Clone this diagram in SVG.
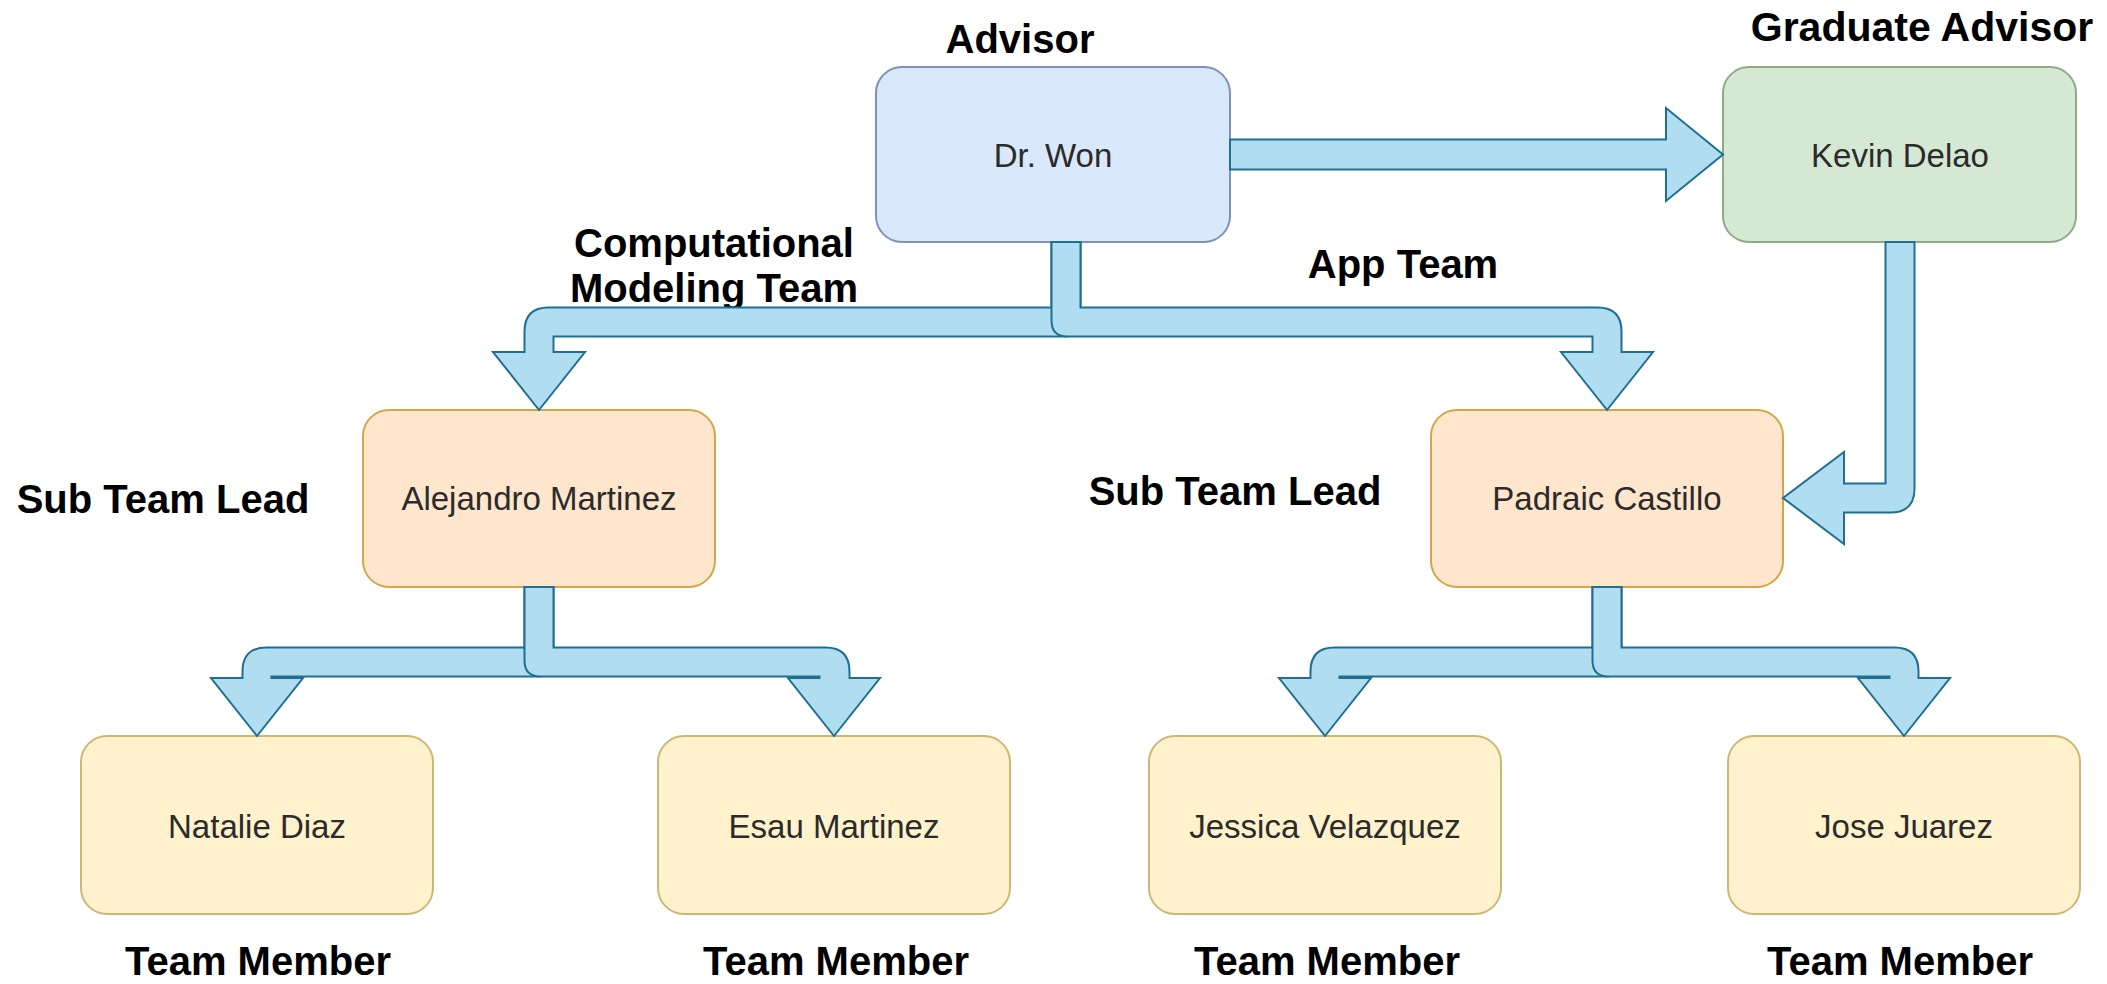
<svg xmlns="http://www.w3.org/2000/svg" width="2107" height="984" viewBox="0 0 2107 984">
  <style>
    .box { stroke-width: 2; }
    .blue { fill: #dae8fc; stroke: #7c92b8; }
    .green { fill: #d5e8d4; stroke: #8fab86; }
    .orange { fill: #ffe6cc; stroke: #d2a64a; }
    .yellow { fill: #fff2cc; stroke: #cdb777; }
    .name { font-family: "Liberation Sans", Arial, sans-serif; font-size: 33px; fill: #2b2b2b; text-anchor: middle; }
    .role { font-family: "Liberation Sans", Arial, sans-serif; font-size: 40px; font-weight: bold; fill: #000; text-anchor: middle; }
    .flex { fill: #b1ddf0; stroke: #1f6f93; stroke-width: 2; stroke-linejoin: miter; }
  </style>
  <rect width="2107" height="984" fill="#ffffff"/>

  <!-- role labels -->
  <g id="labels">
    <text class="role" x="1020" y="53">Advisor</text>
    <text class="role" x="1922" y="41" style="font-size:41px">Graduate Advisor</text>
    <text class="role" x="714" y="257">Computational</text>
    <text class="role" x="714" y="302">Modeling Team</text>
    <text class="role" x="1403" y="278">App Team</text>
    <text class="role" x="163" y="513">Sub Team Lead</text>
    <text class="role" x="1235" y="505">Sub Team Lead</text>
    <text class="role" x="258" y="975">Team Member</text>
    <text class="role" x="836" y="975">Team Member</text>
    <text class="role" x="1327" y="975">Team Member</text>
    <text class="role" x="1900" y="975">Team Member</text>
  </g>

  <g id="dr-won">
    <rect class="box blue" x="876" y="67" width="354" height="175" rx="26"/>
    <text class="name" x="1053" y="167">Dr. Won</text>
  </g>
  <g id="kevin-delao">
    <rect class="box green" x="1723" y="67" width="353" height="175" rx="26"/>
    <text class="name" x="1900" y="167">Kevin Delao</text>
  </g>
  <g id="alejandro-martinez">
    <rect class="box orange" x="363" y="410" width="352" height="177" rx="26"/>
    <text class="name" x="539" y="510">Alejandro Martinez</text>
  </g>
  <g id="padraic-castillo">
    <rect class="box orange" x="1431" y="410" width="352" height="177" rx="26"/>
    <text class="name" x="1607" y="510">Padraic Castillo</text>
  </g>
  <g id="natalie-diaz">
    <rect class="box yellow" x="81" y="736" width="352" height="178" rx="26"/>
    <text class="name" x="257" y="838">Natalie Diaz</text>
  </g>
  <g id="esau-martinez">
    <rect class="box yellow" x="658" y="736" width="352" height="178" rx="26"/>
    <text class="name" x="834" y="838">Esau Martinez</text>
  </g>
  <g id="jessica-velazquez">
    <rect class="box yellow" x="1149" y="736" width="352" height="178" rx="26"/>
    <text class="name" x="1325" y="838">Jessica Velazquez</text>
  </g>
  <g id="jose-juarez">
    <rect class="box yellow" x="1728" y="736" width="352" height="178" rx="26"/>
    <text class="name" x="1904" y="838">Jose Juarez</text>
  </g>

  <!-- block arrows -->
  <g id="connectors">
    <path class="flex" d="M1230,139.5 H1666 V108 L1723,154.5 L1666,201 V169.5 H1230 Z"/>
    <path class="flex" d="M1051.5,242 V307.5 H548.5 Q524.5,307.5 524.5,331.5 V352 H493 L539,410 L585,352 H553.5 V336.5 H1064.5 Q1080.5,336.5 1080.5,320.5 V242 Z"/>
    <path class="flex" d="M1080.5,242 V307.5 H1597.5 Q1621.5,307.5 1621.5,331.5 V352 H1653 L1607,410 L1561,352 H1592.5 V336.5 H1067.5 Q1051.5,336.5 1051.5,320.5 V242 Z"/>
    <path class="flex" d="M1885.5,242 V483.5 H1844 V452 L1783,498 L1844,544 V512.5 H1890.5 Q1914.5,512.5 1914.5,488.5 V242 Z"/>
    <path class="flex" d="M524.5,587 V647.5 H266.5 Q242.5,647.5 242.5,671.5 V678 H211 L257,736 L303,678 H271.5 V676.5 H537.5 Q553.5,676.5 553.5,660.5 V587 Z"/>
    <path class="flex" d="M553.5,587 V647.5 H825.5 Q849.5,647.5 849.5,671.5 V678 H880 L834,736 L788,678 H819.5 V676.5 H540.5 Q524.5,676.5 524.5,660.5 V587 Z"/>
    <path class="flex" d="M1592.5,587 V647.5 H1334.5 Q1310.5,647.5 1310.5,671.5 V678 H1279 L1325,736 L1371,678 H1339.5 V676.5 H1605.5 Q1621.5,676.5 1621.5,660.5 V587 Z"/>
    <path class="flex" d="M1621.5,587 V647.5 H1894.5 Q1918.5,647.5 1918.5,671.5 V678 H1950 L1904,736 L1858,678 H1889.5 V676.5 H1608.5 Q1592.5,676.5 1592.5,660.5 V587 Z"/>
  </g>
</svg>
